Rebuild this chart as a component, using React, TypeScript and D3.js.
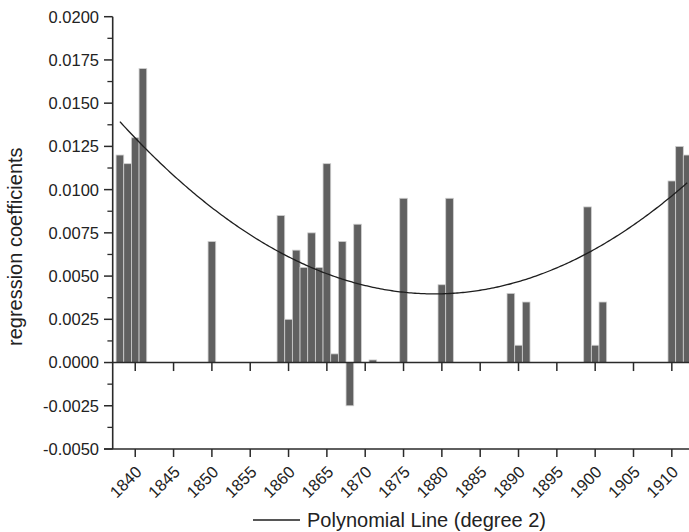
import React from "react";
import * as d3 from "d3";

const years = [1838, 1839, 1840, 1841, 1850, 1859, 1860, 1861, 1862, 1863, 1864, 1865, 1866, 1867, 1868, 1869, 1871, 1875, 1880, 1881, 1889, 1890, 1891, 1899, 1900, 1901, 1910, 1911, 1912];
const values = [0.012, 0.0115, 0.013, 0.017, 0.007, 0.0085, 0.0025, 0.0065, 0.0055, 0.0075, 0.0055, 0.0115, 0.0005, 0.007, -0.0025, 0.008, 0.00015, 0.0095, 0.0045, 0.0095, 0.004, 0.001, 0.0035, 0.009, 0.001, 0.0035, 0.0105, 0.0125, 0.012];
const xTickYears = [1840, 1845, 1850, 1855, 1860, 1865, 1870, 1875, 1880, 1885, 1890, 1895, 1900, 1905, 1910];
const yTickValues = [-0.005, -0.0025, 0, 0.0025, 0.005, 0.0075, 0.01, 0.0125, 0.015, 0.0175, 0.02];
const yMinorValues = [-0.00375, -0.00125, 0.00125, 0.00375, 0.00625, 0.00875, 0.01125, 0.01375, 0.01625, 0.01875];
// polynomial (degree 2) in vertex form: [vertexYear, vertexValue, curvature]
const polyParams = [1879.04, 0.00397, 5.913e-6];
const polyRange = [1838, 1912];
const legendLabel = "Polynomial Line (degree 2)";
const yTitle = "regression coefficients";

const W = 689;
const H = 532;
const FONT = "'Liberation Sans', Arial, sans-serif";

export default function App() {
  const x = d3.scaleLinear().domain([1837.06, 1912.24]).range([112.7, 689]);
  const y = d3.scaleLinear().domain([-0.005, 0.02]).range([449, 16.7]);
  const yearW = x(1841) - x(1840);
  const axisX = x.range()[0];
  const bottomY = y(-0.005);
  const zeroY = y(0);

  const [h, k, a] = polyParams;
  const curveYears = d3.range(polyRange[0], polyRange[1] + 0.001, 0.25);
  const line = d3
    .line<number>()
    .x((d) => x(d))
    .y((d) => y(a * (d - h) * (d - h) + k));

  const axisColor = "#2a2a2a";
  const textColor = "#222";

  return (
    <svg width={W} height={H} style={{ position: "absolute", left: 0, top: 0, background: "#fff" }}>
      <rect x={0} y={0} width={W} height={H} fill="#fff" />
      {/* bars */}
      {years.map((yr, i) => {
        const v = values[i];
        const y0 = y(Math.max(0, v));
        const y1 = y(Math.min(0, v));
        return (
          <rect
            key={yr}
            x={x(yr) - yearW / 2}
            y={y0}
            width={yearW}
            height={Math.max(0.5, y1 - y0)}
            fill="#606060"
            stroke="#cfcfcf"
            strokeWidth={0.8}
          />
        );
      })}
      {/* polynomial line */}
      <path d={line(curveYears) || ""} fill="none" stroke="#1e1e1e" strokeWidth={1.3} />

      {/* left axis */}
      <line x1={axisX} x2={axisX} y1={y(0.02)} y2={bottomY} stroke={axisColor} strokeWidth={1.6} />
      {yTickValues.map((v) => (
        <g key={v}>
          <line x1={axisX - 8.7} x2={axisX} y1={y(v)} y2={y(v)} stroke={axisColor} strokeWidth={1.5} />
          <text
            x={99}
            y={y(v)}
            dy="0.36em"
            textAnchor="end"
            fontFamily={FONT}
            fontSize={16.5}
            fill={textColor}
          >
            {v.toFixed(4)}
          </text>
        </g>
      ))}
      {yMinorValues.map((v) => (
        <line key={v} x1={axisX - 5.3} x2={axisX} y1={y(v)} y2={y(v)} stroke={axisColor} strokeWidth={1.3} />
      ))}

      {/* zero line and bottom line */}
      <line x1={axisX} x2={W} y1={zeroY} y2={zeroY} stroke={axisColor} strokeWidth={1.6} />
      <line x1={axisX - 8.7} x2={W} y1={bottomY} y2={bottomY} stroke={axisColor} strokeWidth={1.6} />
      {xTickYears.map((yr) => (
        <g key={yr}>
          <line x1={x(yr)} x2={x(yr)} y1={zeroY} y2={zeroY + 8.5} stroke={axisColor} strokeWidth={1.5} />
          <line x1={x(yr)} x2={x(yr)} y1={bottomY} y2={bottomY + 8} stroke={axisColor} strokeWidth={1.5} />
          <text
            transform={`translate(${x(yr) + 7.5},${bottomY + 24}) rotate(-45)`}
            textAnchor="end"
            fontFamily={FONT}
            fontSize={16.5}
            fill={textColor}
          >
            {yr}
          </text>
        </g>
      ))}

      {/* y title */}
      <text
        transform={`translate(22,246.7) rotate(-90)`}
        textAnchor="middle"
        fontFamily={FONT}
        fontSize={20}
        fill={textColor}
      >
        {yTitle}
      </text>

      {/* legend */}
      <line x1={253} x2={300} y1={520} y2={520} stroke="#1e1e1e" strokeWidth={1.3} />
      <text x={307} y={527} fontFamily={FONT} fontSize={20} fill={textColor}>
        {legendLabel}
      </text>
    </svg>
  );
}
